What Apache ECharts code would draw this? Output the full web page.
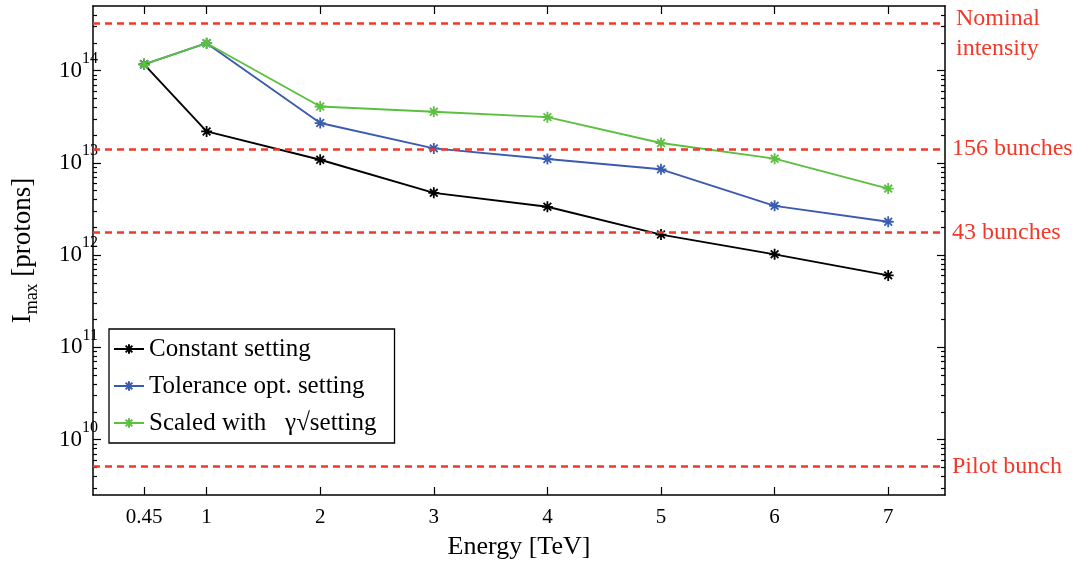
<!DOCTYPE html>
<html><head><meta charset="utf-8">
<script src="https://cdn.jsdelivr.net/npm/echarts@6/dist/echarts.min.js"></script>
<style>html,body{margin:0;padding:0;background:#fff}#c{width:1090px;height:565px}</style>
</head><body><div id="c"></div>
<script>
// ---- data ----
const energies = [0.45, 1, 2, 3, 4, 5, 6, 7];
const constantSetting  = [1.17e14, 2.19e13, 1.08e13, 4.73e12, 3.34e12, 1.67e12, 1.02e12, 6.03e11];
const toleranceSetting = [1.17e14, 1.98e14, 2.70e13, 1.435e13, 1.10e13, 8.51e12, 3.42e12, 2.30e12];
const scaledSetting    = [1.17e14, 1.98e14, 4.08e13, 3.58e13, 3.13e13, 1.64e13, 1.11e13, 5.26e12];
const seriesNames = ['Constant setting', 'Tolerance opt. setting', 'Scaled with   \u03b3\u221asetting'];
const refLevels = [3.25e14, 1.41e13, 1.75e12, 5.1e9];
const refNames = ['Nominal\nintensity', '156 bunches', '43 bunches', 'Pilot bunch'];
const xTicks = [0.45, 1, 2, 3, 4, 5, 6, 7];
const xTickLabels = ['0.45', '1', '2', '3', '4', '5', '6', '7'];
const yTicks = [1e10, 1e11, 1e12, 1e13, 1e14];
const yTickExps = ['10', '11', '12', '13', '14'];
const yMin = Math.pow(10, 9.40), yMax = Math.pow(10, 14.70);
const yMinorTicks = [];
for (let n = 9; n <= 14; n++) for (let k = 2; k <= 9; k++) {
  const v = k * Math.pow(10, n);
  if (v > yMin * 1.01 && v < yMax * 0.99) yMinorTicks.push(v);
}

const SERIF = 'Liberation Serif';
const STAR = 'path://M0,-1L0,1M-1,0L1,0M-0.7,-0.7L0.7,0.7M-0.7,0.7L0.7,-0.7';
const RED = '#f0392b';

function lineSeries(name, vals, color, extra) {
  return Object.assign({
    name: name, type: 'line',
    data: energies.map((e, i) => [e, vals[i]]),
    symbol: STAR, symbolSize: 11, symbolKeepAspect: true,
    lineStyle: { color: color, width: 1.9 },
    itemStyle: { color: color, borderColor: color, borderWidth: 1.8 },
    emphasis: { disabled: true }, animation: false
  }, extra || {});
}

function yAxisBase(pos, ticks, len, showLine, showLabel) {
  return {
    type: 'log', logBase: 10, min: yMin, max: yMax, position: pos,
    axisLine: { show: showLine, lineStyle: { color: '#000', width: 1.5 } },
    axisTick: { show: true, inside: true, length: len, customValues: ticks, lineStyle: { color: '#000', width: 1.2 } },
    axisLabel: showLabel ? {
      show: true, customValues: yTicks, margin: -5,
      formatter: function (v) {
        let idx = 0;
        for (let i = 0; i < yTicks.length; i++) if (Math.abs(Math.log10(v) - Math.log10(yTicks[i])) < 1e-6) idx = i;
        return '{b|10}{s|' + yTickExps[idx] + '}';
      },
      rich: {
        b: { fontFamily: SERIF, fontSize: 23, color: '#000', lineHeight: 40, verticalAlign: 'middle' },
        s: { fontFamily: SERIF, fontSize: 16, color: '#000', lineHeight: 40, verticalAlign: 'top' }
      }
    } : { show: false },
    splitLine: { show: false }, minorTick: { show: false }
  };
}

const chart = echarts.init(document.getElementById('c'), null, { renderer: 'canvas' });
chart.setOption({
  animation: false,
  backgroundColor: '#fff',
  grid: { left: 93, right: 145, top: 6, bottom: 69, containLabel: false },
  xAxis: [{
    type: 'value', min: 0, max: 7.5, position: 'bottom',
    name: 'Energy [TeV]', nameLocation: 'middle', nameGap: 39,
    nameTextStyle: { fontFamily: SERIF, fontSize: 26, color: '#000' },
    axisLine: { lineStyle: { color: '#000', width: 1.5 } },
    axisTick: { inside: true, length: 8, customValues: xTicks, lineStyle: { color: '#000', width: 1.2 } },
    axisLabel: {
      customValues: xTicks, margin: 12, fontFamily: SERIF, fontSize: 21, color: '#000',
      formatter: function (v) { const i = xTicks.findIndex(t => Math.abs(t - v) < 1e-9); return i >= 0 ? xTickLabels[i] : ''; }
    },
    splitLine: { show: false }
  }, {
    type: 'value', min: 0, max: 7.5, position: 'top',
    axisLine: { lineStyle: { color: '#000', width: 1.5 } },
    axisTick: { inside: true, length: 8, customValues: xTicks, lineStyle: { color: '#000', width: 1.2 } },
    axisLabel: { show: false }, splitLine: { show: false }
  }],
  yAxis: [
    Object.assign(yAxisBase('left', yTicks, 8, true, true), {
      name: '{i|I}{m|max}{r| [protons]}', nameLocation: 'middle', nameGap: 52, nameRotate: 90,
      nameTextStyle: {
        rich: {
          i: { fontFamily: SERIF, fontSize: 27, color: '#000', lineHeight: 36, verticalAlign: 'middle' },
          m: { fontFamily: SERIF, fontSize: 18, color: '#000', lineHeight: 36, verticalAlign: 'bottom' },
          r: { fontFamily: SERIF, fontSize: 27, color: '#000', lineHeight: 36, verticalAlign: 'middle' }
        }
      }
    }),
    yAxisBase('left', yMinorTicks, 4, false, false),
    yAxisBase('right', yTicks, 8, true, false),
    yAxisBase('right', yMinorTicks, 4, false, false)
  ],
  legend: {
    data: seriesNames, orient: 'vertical', left: 109, top: 329,
    padding: [6, 18, 6, 4], itemGap: 9, itemWidth: 30, itemHeight: 12,
    borderColor: '#000', borderWidth: 1.3, backgroundColor: '#fff', borderRadius: 0,
    textStyle: { fontFamily: SERIF, fontSize: 25, color: '#000', lineHeight: 28 },
    selectedMode: false
  },
  series: [
    lineSeries(seriesNames[0], constantSetting, '#000000', {
      markLine: {
        silent: true, symbol: 'none', animation: false,
        lineStyle: { color: RED, width: 2.5, type: [7, 5] },
        label: { position: 'end', distance: 7, color: RED, fontFamily: SERIF, fontSize: 24, lineHeight: 30, align: 'left' },
        data: refLevels.map((v, i) => ({
          yAxis: v,
          label: Object.assign({ formatter: refNames[i] }, i === 0 ? { offset: [4, 10] } : {})
        }))
      }
    }),
    lineSeries(seriesNames[1], toleranceSetting, '#3a5bb0'),
    lineSeries(seriesNames[2], scaledSetting, '#5bbf3f')
  ]
});
</script>
</body></html>
